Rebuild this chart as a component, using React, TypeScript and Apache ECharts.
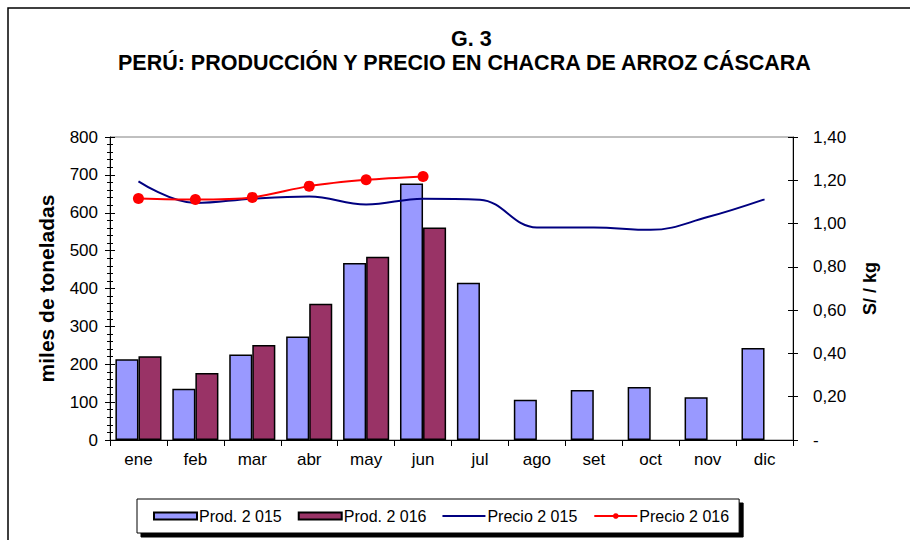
import React, { useEffect, useRef } from "react";
import * as echarts from "echarts";

const months = ["ene", "feb", "mar", "abr", "may", "jun", "jul", "ago", "set", "oct", "nov", "dic"];
const prod2015 = [213, 135, 226, 273, 467, 677, 415, 106, 132, 140, 113, 243];
const prod2016: (number | null)[] = [221, 177, 251, 360, 484, 561, null, null, null, null, null, null];
const precio2015 = [1.195, 1.095, 1.115, 1.125, 1.088, 1.115, 1.11, 0.982, 0.982, 0.971, 1.03, 1.112];
const precio2016: (number | null)[] = [1.116, 1.111, 1.121, 1.173, 1.202, 1.218, null, null, null, null, null, null];

const FONT = "'Liberation Sans', Arial, sans-serif";

export default function App() {
  const ref = useRef<HTMLDivElement>(null);
  useEffect(() => {
    if (!ref.current) return;
    const chart = echarts.init(ref.current, undefined, { renderer: "svg" });
    const labelStyle = { color: "#000", fontSize: 17, fontFamily: FONT };
    chart.setOption({
      animation: false,
      backgroundColor: "#fff",
      textStyle: { fontFamily: FONT },
      title: [
        {
          text: "G. 3",
          left: 446,
          top: 23,
          textStyle: { fontSize: 21.5, fontWeight: "bold", color: "#000", fontFamily: FONT },
        },
        {
          text: "PERÚ: PRODUCCIÓN Y PRECIO EN CHACRA DE ARROZ CÁSCARA",
          left: 113,
          top: 47,
          textStyle: { fontSize: 21.5, fontWeight: "bold", color: "#000", fontFamily: FONT },
        },
      ],
      graphic: [
        {
          type: "rect",
          shape: { x: 8, y: 8, width: 1000, height: 1000 },
          style: { fill: "none", stroke: "#000", lineWidth: 1.5 },
          silent: true,
        },
      ],
      legend: {
        left: 137,
        top: 499,
        padding: [9, 10, 9, 16],
        itemGap: 16,
        itemWidth: 43,
        itemHeight: 7,
        backgroundColor: "#fff",
        borderColor: "#000",
        borderWidth: 1,
        shadowColor: "#000",
        shadowBlur: 0,
        shadowOffsetX: 4,
        shadowOffsetY: 4,
        textStyle: { fontSize: 16, color: "#000", fontFamily: FONT, padding: [0, 0, 0, -3] },
        data: [
          { name: "Prod. 2 015", icon: "rect" },
          { name: "Prod. 2 016", icon: "rect" },
          { name: "Precio 2 015", icon: "path://M0,2.5 L43,2.5 L43,4.5 L0,4.5 Z" },
          { name: "Precio 2 016" },
        ],
      },
      grid: {
        left: 110,
        right: 117,
        top: 137,
        bottom: 100,
        show: true,
        borderColor: "#808080",
        borderWidth: 1,
        backgroundColor: "transparent",
      },
      xAxis: {
        type: "category",
        data: months,
        axisLine: { lineStyle: { color: "#000", width: 1 } },
        axisTick: { show: true, length: 6, lineStyle: { color: "#000" } },
        axisLabel: { ...labelStyle, margin: 11 },
        splitLine: { show: false },
      },
      yAxis: [
        {
          type: "value",
          min: 0,
          max: 800,
          interval: 100,
          position: "left",
          name: "miles de toneladas",
          nameLocation: "middle",
          nameRotate: 90,
          nameGap: 53,
          nameTextStyle: { fontSize: 21, fontWeight: "bold", color: "#000", fontFamily: FONT },
          axisLine: { show: true, lineStyle: { color: "#000", width: 1 } },
          axisTick: { show: true, length: 5, lineStyle: { color: "#000" } },
          minorTick: { show: true, splitNumber: 5, length: 3, lineStyle: { color: "#000" } },
          axisLabel: { ...labelStyle, margin: 12 },
          splitLine: { show: false },
        },
        {
          type: "value",
          min: 0,
          max: 1.4,
          interval: 0.2,
          position: "right",
          name: "S/ / kg",
          nameLocation: "middle",
          nameRotate: 90,
          nameGap: 68,
          nameTextStyle: { fontSize: 18, fontWeight: "bold", color: "#000", fontFamily: FONT },
          axisLine: { show: true, lineStyle: { color: "#000", width: 1 } },
          axisTick: { show: true, length: 5, lineStyle: { color: "#000" } },
          axisLabel: {
            ...labelStyle,
            margin: 20,
            formatter: (v: number) => (v === 0 ? "-" : v.toFixed(2).replace(".", ",")),
          },
          splitLine: { show: false },
        },
        {
          type: "value",
          min: 0,
          max: 800,
          interval: 100,
          position: "left",
          axisLine: { show: false },
          axisTick: { show: true, inside: true, length: 5, lineStyle: { color: "#000" } },
          minorTick: { show: true, splitNumber: 5, length: 3, lineStyle: { color: "#000" } },
          axisLabel: { show: false },
          splitLine: { show: false },
        },
        {
          type: "value",
          min: 0,
          max: 1.4,
          interval: 0.2,
          position: "right",
          axisLine: { show: false },
          axisTick: { show: true, inside: true, length: 5, lineStyle: { color: "#000" } },
          axisLabel: { show: false },
          splitLine: { show: false },
        },
      ],
      series: [
        {
          name: "Prod. 2 015",
          type: "bar",
          yAxisIndex: 0,
          data: prod2015,
          barGap: "0%",
          barCategoryGap: "19%",
          itemStyle: { color: "#9999FF", borderColor: "#000", borderWidth: 1.5 },
        },
        {
          name: "Prod. 2 016",
          type: "bar",
          yAxisIndex: 0,
          data: prod2016,
          itemStyle: { color: "#993366", borderColor: "#000", borderWidth: 1.5 },
        },
        {
          name: "Precio 2 015",
          type: "line",
          yAxisIndex: 1,
          data: precio2015,
          smooth: 0.4,
          symbol: "none",
          lineStyle: { color: "#000080", width: 2 },
          itemStyle: { color: "#000080" },
        },
        {
          name: "Precio 2 016",
          type: "line",
          yAxisIndex: 1,
          data: precio2016,
          smooth: 0.3,
          symbol: "circle",
          symbolSize: 11,
          lineStyle: { color: "#FF0000", width: 2 },
          itemStyle: { color: "#FF0000" },
        },
      ],
    });
    return () => chart.dispose();
  }, []);
  return (
    <div
      ref={ref}
      style={{ position: "absolute", left: 0, top: 0, width: 910, height: 540 }}
    />
  );
}
